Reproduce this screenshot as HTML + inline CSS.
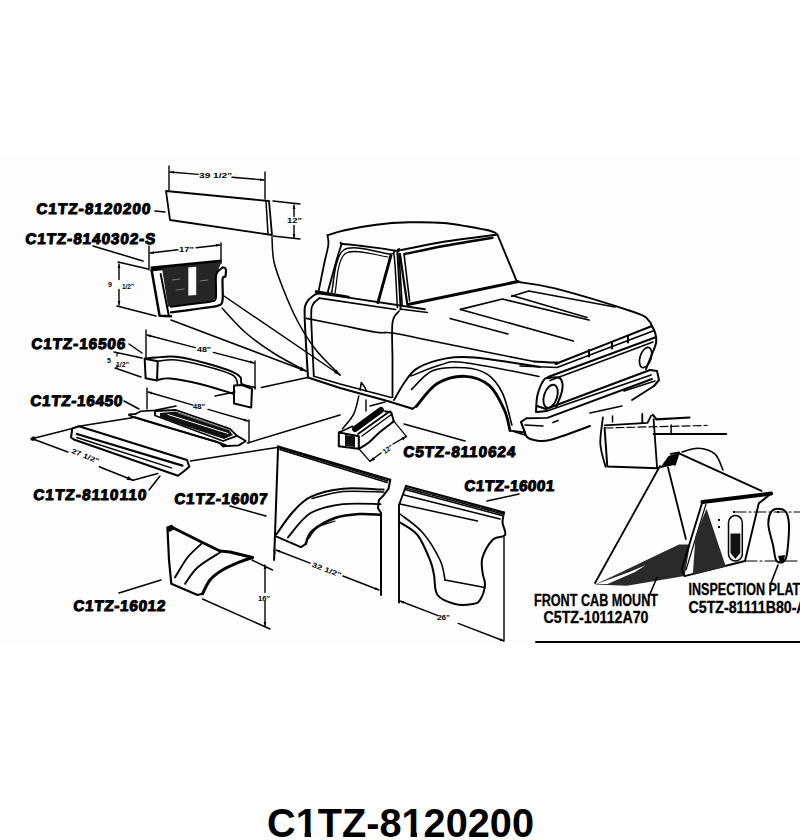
<!DOCTYPE html>
<html><head><meta charset="utf-8">
<style>
html,body{margin:0;padding:0;background:#fff;width:800px;height:840px;overflow:hidden}
svg{display:block}
.g path{fill:none;stroke:#000;stroke-linecap:round;stroke-linejoin:round}

.lab{font-family:"Liberation Sans",sans-serif;font-weight:bold;font-size:15.2px;fill:#000;stroke:#000;stroke-width:1.1;stroke-linejoin:round}
.dim{font-family:"Liberation Sans",sans-serif;font-weight:bold;font-size:7px;fill:#000}
.cap{font-family:"Liberation Sans",sans-serif;font-weight:bold;font-size:16px;fill:#000;stroke:#000;stroke-width:0.3}
.title{font-family:"Liberation Sans",sans-serif;font-weight:bold;font-size:41.5px;fill:#000}
</style></head><body>
<svg width="800" height="840" viewBox="0 0 800 840">
<rect x="0" y="155" width="800" height="490" style="fill:#fdfdfd"/>
<g class="g">
<g class="lab">
<text class="lab" transform="translate(36 214) skewX(-5)" x="0" y="0" textLength="114" lengthAdjust="spacing">C1TZ-8120200</text>
<text class="lab" transform="translate(25 244) skewX(-5)" x="0" y="0" textLength="130" lengthAdjust="spacing">C1TZ-8140302-S</text>
<text class="lab" transform="translate(31 349) skewX(-5)" x="0" y="0" textLength="94" lengthAdjust="spacing">C1TZ-16506</text>
<text class="lab" transform="translate(30 406) skewX(-5)" x="0" y="0" textLength="92" lengthAdjust="spacing">C1TZ-16450</text>
<text class="lab" transform="translate(33 500) skewX(-5)" x="0" y="0" textLength="113" lengthAdjust="spacing">C1TZ-8110110</text>
<text class="lab" transform="translate(174 504) skewX(-5)" x="0" y="0" textLength="93" lengthAdjust="spacing">C1TZ-16007</text>
<text class="lab" transform="translate(73 611) skewX(-5)" x="0" y="0" textLength="92" lengthAdjust="spacing">C1TZ-16012</text>
<text class="lab" transform="translate(403 457) skewX(-5)" x="0" y="0" textLength="112" lengthAdjust="spacing">C5TZ-8110624</text>
<text class="lab" transform="translate(464 491) skewX(-5)" x="0" y="0" textLength="90" lengthAdjust="spacing">C1TZ-16001</text>
</g>
<text class="cap" x="534" y="606.3" textLength="124" lengthAdjust="spacingAndGlyphs">FRONT CAB MOUNT</text>
<text class="cap" x="543.5" y="623.2" textLength="105" lengthAdjust="spacingAndGlyphs">C5TZ-10112A70</text>
<text class="cap" x="688.6" y="595.2" textLength="120" lengthAdjust="spacingAndGlyphs">INSPECTION PLATE</text>
<text class="cap" x="688.6" y="613" textLength="118" lengthAdjust="spacingAndGlyphs">C5TZ-81111B80-A</text>
<text class="title" x="267" y="837" textLength="267" lengthAdjust="spacingAndGlyphs">C1TZ-8120200</text>
<path d="M297 831.6 L304.6 831.6 L304.6 838 L297 838 Z" style="fill:#fff;stroke:none"/>
<path d="M311 831.6 L317 831.6 L317 838 L311 838 Z" style="fill:#fff;stroke:none"/>
<path d="M403 831.6 L410.6 831.6 L410.6 838 L403 838 Z" style="fill:#fff;stroke:none"/>
<path d="M417 831.6 L423.5 831.6 L423.5 838 L417 838 Z" style="fill:#fff;stroke:none"/>
<path d="M536 642 L800 642" stroke-width="2"/>
<path d="M155 211 L165 212" stroke-width="1.6"/>
<path d="M93 246 L143 261" stroke-width="1.5"/>
<path d="M129 344 L142 353" stroke-width="1.5"/>
<path d="M124 401 L139 409" stroke-width="1.5"/>
<path d="M149 490 L160 476" stroke-width="1.5"/>
<path d="M230 506 L266 516" stroke-width="1.5"/>
<path d="M119 593 L161 580" stroke-width="1.5"/>
<path d="M404 424 L465 441" stroke-width="1.5"/>
<path d="M487 501 L519 494" stroke-width="1.5"/>
<path d="M166 191 L269 201 L272 235 L170 220 Z" stroke-width="1.8"/>
<path d="M266 201 L268 234" stroke-width="1.5"/>
<path d="M169 166 L169 190" stroke-width="1.4"/>
<path d="M265 172 L265 199" stroke-width="1.4"/>
<path d="M170 172 L198.2 174.4" stroke-width="1.4"/>
<path d="M232 177.3 L264 180" stroke-width="1.4"/>
<path d="M170 172 L174.1 170.9 L173.9 173.7 Z" style="fill:#000;stroke:none"/>
<path d="M264 180 L259.9 181.1 L260.1 178.3 Z" style="fill:#000;stroke:none"/>
<text class="dim" x="199" y="178" textLength="33" lengthAdjust="spacingAndGlyphs">39 1/2"</text>
<path d="M273 201 L300 204" stroke-width="1.4"/>
<path d="M273 236 L300 239" stroke-width="1.4"/>
<path d="M294 205 L294 216.6" stroke-width="1.4"/>
<path d="M294 225.5 L294 238" stroke-width="1.4"/>
<path d="M294 205 L295.4 209 L292.6 209 Z" style="fill:#000;stroke:none"/>
<path d="M294 238 L292.6 234 L295.4 234 Z" style="fill:#000;stroke:none"/>
<text class="dim" x="287" y="223" textLength="15" lengthAdjust="spacingAndGlyphs">12"</text>
<path d="M149 246 L149 270" stroke-width="1.4"/>
<path d="M221 243 L221 262" stroke-width="1.4"/>
<path d="M150 253 L178 249.8" stroke-width="1.4"/>
<path d="M196.2 247.7 L220 245" stroke-width="1.4"/>
<path d="M150 253 L153.8 251.2 L154.1 253.9 Z" style="fill:#000;stroke:none"/>
<path d="M220 245 L216.2 246.8 L215.9 244.1 Z" style="fill:#000;stroke:none"/>
<text class="dim" x="179" y="252" textLength="15" lengthAdjust="spacingAndGlyphs">17"</text>
<path d="M118 262 L148 269" stroke-width="1.4"/>
<path d="M117 306 L156 316" stroke-width="1.4"/>
<path d="M119 264 L119 279.6" stroke-width="1.4"/>
<path d="M119 289.4 L119 305" stroke-width="1.4"/>
<path d="M119 264 L120.4 268 L117.6 268 Z" style="fill:#000;stroke:none"/>
<path d="M119 305 L117.6 301 L120.4 301 Z" style="fill:#000;stroke:none"/>
<text class="dim" x="108" y="287" >9</text>
<text class="dim" x="122" y="289" textLength="12" lengthAdjust="spacingAndGlyphs">1/2"</text>
<path d="M150.6 266.5 L221.5 259.5 L221.5 264 L150.6 271.5 Z" style="fill:#000;stroke:none"/>
<path d="M162 268 L221.5 262 L219 268 L217 273 L215.9 277.5 L215.9 297.7 L212.5 301.1 L168 306.7 Z" style="fill:#262626;stroke:none"/>
<path d="M188.3 267.4 L196.2 266.8 L196.2 295 L188.3 295.5 Z" style="fill:#fff;stroke:none"/>
<path d="M172 280 L180 279 M200 281 L208 280 M176 290 L184 289" style="fill:none;stroke:#777;stroke-width:1"/>
<path d="M151.7 270.7 L159.6 315.7 L170.9 316.3" stroke-width="2.5"/>
<path d="M160.7 274.1 L168.6 314.6" stroke-width="2"/>
<path d="M226 270 C225.9 271.1 226 274.9 225.4 276.4 C224.8 277.9 223.1 275.1 222.6 279 C222.1 282.9 223.3 295.6 222.6 300 C221.8 304.4 221.9 304.2 218.1 305.6 C214.3 307 207.9 307.4 200 308.5 C192.1 309.6 175.8 311.8 170.9 312.4" stroke-width="2.2"/>
<path d="M222.6 267.5 C221.8 268.2 218.6 270.3 217.5 272 C216.4 273.7 216.2 273.2 215.9 277.5 C215.6 281.8 216.5 293.8 215.9 297.7 C215.3 301.6 215.2 300.2 212.5 301.1 C209.8 302 206.9 302.1 200 303 C193.1 303.9 175.8 306.1 170.9 306.7" stroke-width="2"/>
<path d="M222.6 267.5 C223 267.6 224.4 267.4 225 267.8 C225.6 268.2 225.8 269.6 226 270" stroke-width="2"/>
<path d="M224 296 L340 375" stroke-width="1.5"/>
<path d="M222 308 C226 312.2 237.2 325.3 246 333 C254.8 340.7 265 347.7 275 354 C285 360.3 300.8 368.2 306 371" stroke-width="1.5"/>
<path d="M171 320 L306 371" stroke-width="1.5"/>
<path d="M272 237 C272.3 241.2 272 253 274 262 C276 271 280 281 284 291 C288 301 292.7 312.2 298 322 C303.3 331.8 309 341.2 316 350 C323 358.8 336 370.8 340 375" stroke-width="1.5"/>
<path d="M340 375 L334 372.9 L336.6 369.6 Z" style="fill:#000;stroke:none"/>
<path d="M306 371 L299.6 370.7 L301.2 366.8 Z" style="fill:#000;stroke:none"/>
<path d="M146 330 L146 358" stroke-width="1.4"/>
<path d="M255 361 L255 389" stroke-width="1.4"/>
<path d="M147 335 L195.2 347.6" stroke-width="1.4"/>
<path d="M213.3 352.4 L254 363" stroke-width="1.4"/>
<path d="M147 335 L151.2 334.7 L150.5 337.4 Z" style="fill:#000;stroke:none"/>
<path d="M254 363 L249.8 363.3 L250.5 360.6 Z" style="fill:#000;stroke:none"/>
<text class="dim" x="197" y="352" textLength="14" lengthAdjust="spacingAndGlyphs">48"</text>
<path d="M114 352 L142 358" stroke-width="1.4"/>
<path d="M115 368 L141 377" stroke-width="1.4"/>
<path d="M117 353 L117 356" stroke-width="1.2"/>
<path d="M117 365 L117 368" stroke-width="1.2"/>
<text class="dim" x="107" y="363" >5</text>
<text class="dim" x="116" y="367" textLength="13" lengthAdjust="spacingAndGlyphs">1/2"</text>
<path d="M144.7 358.8 L145.6 378.3 L157 380.5 L157.7 361.2 Z" stroke-width="2"/>
<path d="M144.7 358.8 C146.6 358.6 150.8 357.8 156 357.5 C161.2 357.2 167.8 355.9 176 356.8 C184.2 357.7 195.6 360.5 205 363 C214.4 365.5 226.6 369.4 232.5 371.8 C238.4 374.2 239 375.5 240.6 377.5 C242.2 379.5 239.6 382.3 242 384 C244.4 385.7 252.8 386.9 255 387.5" stroke-width="1.9"/>
<path d="M157.7 361.2 C160.8 361 168.1 359.2 176 360 C183.9 360.8 195.8 363.6 205 366 C214.2 368.4 225.7 371.9 231 374.2 C236.3 376.5 235.5 378.1 236.6 380 C237.7 381.9 237.3 384.7 237.4 385.6" stroke-width="1.5"/>
<path d="M157.7 380 C159.8 379.8 162.9 377.8 170 378.5 C177.1 379.2 189.3 381.4 200 384 C210.7 386.6 228.3 392.3 234 394" stroke-width="1.9"/>
<path d="M234 385.6 L234 403.5 L251.2 407.6 L252 388.9 L242 385 L234 385.6" stroke-width="2"/>
<path d="M261.3 387.5 L307.5 377.5" stroke-width="1.5"/>
<path d="M215 396 L235 392" stroke-width="1.4"/>
<path d="M147 388 L147 409" stroke-width="1.4"/>
<path d="M249 420 L249 443" stroke-width="1.4"/>
<path d="M148 392 L193 405.1" stroke-width="1.4"/>
<path d="M208 409.4 L248 421" stroke-width="1.4"/>
<path d="M148 392 L152.2 391.8 L151.5 394.5 Z" style="fill:#000;stroke:none"/>
<path d="M248 421 L243.8 421.2 L244.5 418.5 Z" style="fill:#000;stroke:none"/>
<text class="dim" x="193" y="409" textLength="12" lengthAdjust="spacingAndGlyphs">48"</text>
<path d="M135.5 414 L140.8 411.3 L155 410.4 L176 406" stroke-width="1.6"/>
<path d="M135.5 414 C135.4 414.6 121 412.7 135 417.5 C149 422.3 204.8 438 219.5 442.8 C234.2 447.6 222.4 445.7 223 446.3" stroke-width="1.8"/>
<path d="M135.5 417.5 L219.5 442.8 L223 446.3 L238.8 445.4 L245.8 441 L237 435.8" stroke-width="1.9"/>
<path d="M155 411 L176 410 L230 428.8 L237 435.8 L223 441 L155 415.5 Z" stroke-width="1.8"/>
<path d="M160 413 L176 411.5 L229 430 L233 435 L224 439 L160 417.5 Z" style="fill:#111;stroke:none"/>
<path d="M168 414.5 L228 433.5" style="fill:none;stroke:#fff;stroke-width:1"/>
<path d="M178 413 L226 429" style="fill:none;stroke:#888;stroke-width:0.8"/>
<path d="M247.5 443 L340 415" stroke-width="1.5"/>
<path d="M30 438.6 L34 436 L36 440 L32 441 Z" style="fill:#000;stroke:none"/>
<path d="M33 438.6 L72.3 428.5" stroke-width="1.5"/>
<path d="M33 439 L67.8 452" stroke-width="1.5"/>
<path d="M99.3 466.8 L133 480.3" stroke-width="1.5"/>
<path d="M133 480.3 L126.7 480 L128.2 476.1 Z" style="fill:#000;stroke:none"/>
<text class="dim" x="70" y="458" textLength="29" lengthAdjust="spacingAndGlyphs" transform="rotate(22 84 458)">27 1/2"</text>
<path d="M133 480.3 L157.8 473.5" stroke-width="1.5"/>
<path d="M72.3 428.5 L79 426.3 L187 460 L189.3 466.8 L183 472 L178 475.8 L74.5 439.8 L71 437.5 L72.3 428.5" stroke-width="2"/>
<path d="M76.8 434 L182.5 465.6" stroke-width="2.2"/>
<path d="M76.8 437.5 L171.3 467.9" stroke-width="1.5"/>
<path d="M79 426.3 L135.3 417.3" stroke-width="1.5"/>
<path d="M190.4 461 L277 447.5" stroke-width="1.5"/>
<path d="M167.5 528.8 L169 560 L171.3 583.8 L197.5 595 L202.5 593.8" stroke-width="2.2"/>
<path d="M202.5 593.8 C203.8 591.5 206.7 584 210 580 C213.3 576 217.3 573.1 222.5 570 C227.7 566.9 236.3 563.4 241.3 561.3 C246.3 559.2 250.6 558.1 252.5 557.5" stroke-width="3"/>
<path d="M172.5 527.5 L202.5 542.5 L220 551 L230 552 L252.5 557.5" stroke-width="2.9"/>
<path d="M166 527 L172 524.5 L175 529 L169 532 Z" style="fill:#000;stroke:none"/>
<path d="M175 577.5 C177.1 574.2 183.1 563.1 187.5 557.5 C191.9 551.9 199 546.1 201.3 543.8" stroke-width="1.9"/>
<path d="M185 583.8 C187.1 581.1 191.7 572.7 197.5 567.5 C203.3 562.3 216.2 555 220 552.5" stroke-width="1.9"/>
<path d="M252 560 L272.5 570" stroke-width="1.4"/>
<path d="M202.5 599 L270 629" stroke-width="1.4"/>
<path d="M265 565 L265 592.5" stroke-width="1.4"/>
<path d="M265 601.6 L265 626" stroke-width="1.4"/>
<path d="M265 565 L266.4 569 L263.6 569 Z" style="fill:#000;stroke:none"/>
<path d="M265 626 L263.6 622 L266.4 622 Z" style="fill:#000;stroke:none"/>
<text class="dim" x="258" y="601" textLength="12" lengthAdjust="spacingAndGlyphs">16"</text>
<path d="M278.1 446.5 L390.2 479.8" stroke-width="2.2"/>
<path d="M279.8 449.5 L387 482.5" stroke-width="1.6"/>
<path d="M280 448 L388 481" style="fill:none;stroke:#000;stroke-width:1.6;stroke-dasharray:1.5 1.5"/>
<path d="M278.1 446.5 L274.1 560" stroke-width="2"/>
<path d="M390.2 479.8 L388.6 488.7 L383.7 495.2 L378.9 500.1 L378 508.2 L381 513 L381 595" stroke-width="2"/>
<path d="M276.5 534.2 C279.1 530.7 286.3 519.2 292 513 C297.7 506.8 302.1 500.9 310.6 496.9 C319.1 492.8 330.8 489.9 343 488.7 C355.2 487.5 376.9 489.5 383.7 489.6" stroke-width="2"/>
<path d="M312 498.5 C317.2 497.3 331.1 492.6 343 491.5 C354.9 490.4 376.9 491.9 383.7 492" stroke-width="1.5"/>
<path d="M287.9 537.5 C291.7 533.4 301.4 518.6 310.6 513.1 C319.8 507.6 331.4 505.7 343 504.2 C354.6 502.7 374.2 504.2 380.5 504.2" stroke-width="1.8"/>
<path d="M305.7 544 C306.8 541.8 307.3 535.3 312.2 531 C317.1 526.7 327.1 520.8 335 518 C342.9 515.2 351.8 514.5 359.4 514 C367 513.5 377 514.6 380.5 514.7" stroke-width="2.5"/>
<path d="M309 538 C310.5 536.2 313.7 529.8 318 527 C322.3 524.2 332.2 522 335 521" stroke-width="1.2"/>
<path d="M274.9 535.9 L300.9 547.2 L305.7 544" stroke-width="2"/>
<path d="M274 550 L275 553" stroke-width="1.4"/>
<path d="M276 550 L310 563.2" stroke-width="1.4"/>
<path d="M342.9 576 L379 590" stroke-width="1.4"/>
<path d="M276 550 L280.2 550.1 L279.2 552.8 Z" style="fill:#000;stroke:none"/>
<path d="M379 590 L374.8 589.9 L375.8 587.2 Z" style="fill:#000;stroke:none"/>
<text class="dim" x="311" y="572" textLength="31" lengthAdjust="spacingAndGlyphs" transform="rotate(21 326 570)">32 1/2"</text>
<path d="M406 486 L504 512.5" stroke-width="2.2"/>
<path d="M405 489.5 L502 515.5" stroke-width="1.5"/>
<path d="M406 488 L503 514" style="fill:none;stroke:#000;stroke-width:1.6;stroke-dasharray:1.5 1.5"/>
<path d="M404 495 L500 519" stroke-width="1.5"/>
<path d="M400 504 L477.5 521" stroke-width="1.5"/>
<path d="M406 486 L399 505 L399 602.5" stroke-width="1.9"/>
<path d="M504 512.5 C503.8 514.2 502.3 518.8 502.5 522.5 C502.7 526.2 506.7 532.1 505 535 C503.3 537.9 496.2 536.2 492.5 540 C488.8 543.8 484.2 552.1 482.5 557.5 C480.8 562.9 482.1 567.9 482.5 572.5 C482.9 577.1 485.4 580.4 485 585 C484.6 589.6 482.1 596.8 480 600 C477.9 603.2 476.7 603.3 472.5 604 C468.3 604.7 460.8 605.5 455 604 C449.2 602.5 441 599.8 437.5 595 C434 590.2 435.2 580.8 434 575 C432.8 569.2 432.8 566.7 430 560 C427.2 553.3 422.5 541.2 417.5 535 C412.5 528.8 402.9 524.6 400 522.5" stroke-width="2"/>
<path d="M400 514 C403.8 517.1 415.8 524.8 422.5 532.5 C429.2 540.2 436.2 552.1 440 560 C443.8 567.9 444.2 576.7 445 580" stroke-width="1.6"/>
<path d="M445 580 L485 587.5" stroke-width="1.6"/>
<path d="M504 537.5 L504 640" stroke-width="1.4"/>
<path d="M400 601 L437.4 615.4" stroke-width="1.4"/>
<path d="M458.2 623.4 L504 641" stroke-width="1.4"/>
<path d="M400 601 L404.2 601.1 L403.2 603.7 Z" style="fill:#000;stroke:none"/>
<path d="M504 641 L499.8 640.9 L500.8 638.3 Z" style="fill:#000;stroke:none"/>
<text class="dim" x="437" y="620" textLength="13" lengthAdjust="spacingAndGlyphs">26"</text>
<path d="M338.8 432.5 L338.8 446.3 L358.8 448.8 L358.8 436.3 L338.8 432.5" stroke-width="2"/>
<path d="M345 435 L355 436.5 L355 447 L345 446 Z" style="fill:#111;stroke:none"/>
<path d="M341 434 L344 434.5 L344 445 L341 445 Z" style="fill:#fff;stroke:none"/>
<path d="M355 429 L381 410" style="stroke:#000;stroke-width:6;stroke-linecap:round;fill:none"/>
<path d="M358 434 L386 414 L390 411.3" stroke-width="1.8"/>
<path d="M362 436 L392 414" stroke-width="1.5"/>
<path d="M385 411.3 L391.3 412.5 L393.8 421.3" stroke-width="1.9"/>
<path d="M358.8 448.8 C360.5 447.8 365.3 445.3 368.8 442.5 C372.3 439.7 375.8 435.5 380 432 C384.2 428.5 391.5 423.1 393.8 421.3" stroke-width="2"/>
<path d="M338.8 432.5 L352.5 426.3" stroke-width="1.6"/>
<path d="M366 400 L366 411" stroke-width="1.4"/>
<path d="M358.8 396 C358 399 356.5 408.3 353.8 413.8 C351.1 419.3 344.4 426.3 342.5 428.8" stroke-width="1.5"/>
<path d="M360 390 L361.3 382.5 L365 387.5 L366.3 391.3" stroke-width="1.5"/>
<path d="M359 449 L370 461.3" stroke-width="1.2"/>
<path d="M394 421.3 L406.3 436.3" stroke-width="1.2"/>
<path d="M370 461.3 L381 453" stroke-width="1.4"/>
<path d="M393 444 L406.3 436.3" stroke-width="1.4"/>
<path d="M370 461.3 L373.1 457 L375.1 459.9 Z" style="fill:#000;stroke:none"/>
<path d="M406.3 436.3 L403.2 440.6 L401.2 437.7 Z" style="fill:#000;stroke:none"/>
<text class="dim" x="382" y="452" textLength="11" lengthAdjust="spacingAndGlyphs" transform="rotate(-35 387 449)">12"</text>
<path d="M308 377.5 L340 388 L387.5 401 L412.5 408.8" stroke-width="2"/>
<path d="M313.8 376.3 L340 384 L391.3 397.5" stroke-width="1.6"/>
<path d="M370 406 L385 402" stroke-width="1.4"/>
<path d="M327.5 235.3 C330.2 234.5 335.6 232.2 343.7 230.4 C351.8 228.6 365.4 226 376.2 224.7 C387 223.3 397.4 222.6 408.7 222.3 C419.9 222 431.1 221.9 443.7 223.1 C456.3 224.3 475.7 228 484.4 229.6 C493.1 231.2 493.8 232.3 495.7 232.9" stroke-width="2"/>
<path d="M327.5 235.3 C327.6 236.9 328.9 240.3 328.3 245 C327.8 249.7 325.8 256 324.2 263.7 C322.6 271.4 319.5 286.8 318.6 291.4" stroke-width="1.8"/>
<path d="M327.5 293 C329.7 285.4 337.5 255.6 340.5 247.5 C343.5 239.4 336.2 243.8 345.4 244.3 C354.6 244.8 387 249.1 395.7 250.7 C404.4 252.3 396.6 244.2 397.4 254 C398.2 263.8 400.1 300 400.6 309.2" stroke-width="1.9"/>
<path d="M331.6 293 C333.6 285.8 334.1 256.5 343.7 250 C353.3 243.5 380.8 253.1 389.2 254 C397.6 254.9 392.7 246.7 394.1 255.6 C395.5 264.5 396.8 298.9 397.4 307.6" stroke-width="1.5"/>
<path d="M335 293 C336.8 286.4 336.7 259.5 345.5 253.5 C354.3 247.5 380.9 256.4 388 257" stroke-width="1.2"/>
<path d="M390.9 255.6 L377.9 302.7" stroke-width="2.9"/>
<path d="M399 253.2 L402.2 306" stroke-width="1.6"/>
<path d="M401.5 250 C408.5 248.6 427.7 244.4 443.7 241.8 C459.7 239.2 488.4 235.7 497.4 234.5" stroke-width="2"/>
<path d="M404.7 254 C411.2 252.7 429.1 248.7 443.7 246 C458.3 243.3 484.4 239.1 492.5 237.7" stroke-width="2.5"/>
<path d="M399.9 254 L407.2 303.6" stroke-width="2.2"/>
<path d="M404 254 L409.6 301" stroke-width="1.6"/>
<path d="M497.4 234.5 L516.9 281.6" stroke-width="1.9"/>
<path d="M408 304.4 L518 281.6" stroke-width="3.1"/>
<path d="M316.1 293 L350.2 297.9 L425 309.2" stroke-width="1.9"/>
<path d="M316 291.4 L348.6 297" stroke-width="2.5"/>
<path d="M400 309 L427.5 312.5" stroke-width="1.5"/>
<path d="M308 377.5 C307.4 367.5 305 330 304.7 317.6 C304.4 305.2 304.8 306.8 306.4 303 C308 299.2 312.1 296.5 314.5 294.9 C316.9 293.3 319.9 293.5 321 293.2" stroke-width="2"/>
<path d="M313.8 376.3 C313.4 366.5 311.4 329.6 311.2 317.6 C311 305.7 311.5 307.9 312.9 304.6 C314.3 301.4 318.3 299.2 319.4 298.1" stroke-width="1.8"/>
<path d="M319.4 298.1 L395.7 309.5" stroke-width="1.6"/>
<path d="M306.4 318.4 C312 319.5 328.4 322.7 340 325 C351.6 327.3 367.4 330.9 376.2 332.2 C384.9 333.5 384.4 331.8 392.5 333 C400.6 334.2 408.8 336.2 425 339.5 C441.2 342.8 471.8 349.1 490 352.8 C508.2 356.5 526.7 360.1 534 361.5" stroke-width="1.6"/>
<path d="M399 311.1 C397.9 313 393.6 314.4 392.5 322.5 C391.4 330.6 392.5 347.6 392.5 360 C392.5 372.4 392.5 391 392.5 397.2" stroke-width="1.8"/>
<path d="M394 400 C395.9 396.8 401.5 386.4 405.5 381 C409.5 375.6 411.2 371.6 418 367.8 C424.8 364 436.9 360.1 446.3 358.4 C455.7 356.7 461.9 356.6 474.4 357.5 C486.9 358.4 510.4 362.4 521.3 364 C532.2 365.6 536.9 366.5 540 367" stroke-width="1.9"/>
<path d="M411.6 389.4 C415.2 386.3 424.1 374.2 433 370.6 C441.9 367 455.9 367.2 465 367.8 C474.1 368.4 481.2 370.2 487.5 374.4 C493.8 378.6 498.4 384.7 502.5 393.1 C506.6 401.5 510.3 419.7 511.9 425" stroke-width="1.6"/>
<path d="M416.3 406.3 C419.7 402.6 428.8 388.8 436.9 383.8 C445 378.8 456.2 376 465 376.3 C473.8 376.6 482.8 380 489.4 385.6 C496 391.2 501 402.5 504.4 410 C507.8 417.5 509.1 427.2 510 430.6" stroke-width="2.8"/>
<path d="M510 430.6 L525 432.5" stroke-width="1.9"/>
<path d="M412.5 408.8 L416.3 406.3" stroke-width="1.9"/>
<path d="M411 376 C415.8 374.2 431.2 367.3 440 365 C448.8 362.7 447.5 360.5 464 362.4 C480.5 364.3 526.5 374.1 539 376.4" stroke-width="1.5"/>
<path d="M518 282 C524.2 283.1 535.7 283.4 555 288.4 C574.3 293.4 618.2 306.8 633.7 312 C649.2 317.2 645.2 317.5 648.2 319.9 C651.2 322.3 651.4 325.3 652 326.4" stroke-width="1.9"/>
<path d="M460.5 309.4 L502.5 299 L589 320" stroke-width="1.8"/>
<path d="M460.5 309.4 L573.4 341" stroke-width="1.6"/>
<path d="M450 318.5 L508 334" stroke-width="1.5"/>
<path d="M511.7 296.2 L528.7 291 L615 307" stroke-width="1.6"/>
<path d="M512 295.5 L587 317.5" stroke-width="1.5"/>
<path d="M534 361.5 C537.9 361.7 552.7 362.6 557.5 362.5 C562.3 362.4 547.2 367.1 563 361 C578.8 354.9 637.2 331.8 652 326" stroke-width="2"/>
<path d="M520 366 L557 367.5 L653 331" stroke-width="1.6"/>
<path d="M548 377 L655 337.5" stroke-width="1.9"/>
<path d="M550 380.5 L653 342" stroke-width="1.5"/>
<path d="M652 326 C652.6 327.3 654.8 331.2 655.5 334 C656.2 336.8 656.6 339.7 656 343 C655.4 346.3 653.7 349.7 652 354 C650.3 358.3 647 366.5 646 369" stroke-width="2"/>
<path d="M589 350 L589 356.5" stroke-width="2"/>
<path d="M612 342 L612 348.5" stroke-width="2"/>
<path d="M628 336 L628 342.5" stroke-width="2"/>
<ellipse cx="645.6" cy="357.5" rx="5.5" ry="10.5" transform="rotate(18 645.6 357.5)" style="fill:none;stroke:#000;stroke-width:1.7"/>
<ellipse cx="550.6" cy="396.3" rx="6.5" ry="12" transform="rotate(18 550.6 396.3)" style="fill:none;stroke:#000;stroke-width:1.9"/>
<path d="M536 412 C536.2 409.2 536.2 400.3 537.5 395 C538.8 389.7 541.9 382.8 543.8 380 C545.7 377.2 546.5 378.4 549 378 C551.5 377.6 556.5 376.5 558.8 377.5 C561 378.5 562.1 381.1 562.5 383.8 C562.9 386.5 562.3 390.1 561.3 393.8 C560.3 397.6 557.1 404.2 556.3 406.3" stroke-width="2"/>
<path d="M537 406 L546 409 L650 370" stroke-width="2"/>
<path d="M537 412 L547 411 L651 375" stroke-width="1.8"/>
<path d="M521 422 L526.3 418.3 L547.3 417.9 L652 379" stroke-width="1.9"/>
<path d="M650 370 L657 371 L659 380 L654 386" stroke-width="2"/>
<path d="M521 422 C521.5 423.3 523 427.5 524 430 C525 432.5 525.3 435.3 527 437 C528.7 438.7 530.2 439.5 534 440 C537.8 440.5 540.7 442.3 550 440 C559.3 437.7 583.3 428.3 590 426" stroke-width="2.1"/>
<path d="M515 432 L525 435" stroke-width="1.6"/>
<path d="M525 425 L543 426" stroke-width="1.5"/>
<path d="M553 422.5 L558 420.5" stroke-width="1.8"/>
<path d="M590 413 L622 406" stroke-width="1.5"/>
<path d="M632 400 L654 386" stroke-width="1.8"/>
<path d="M624 391 L655 381" stroke-width="1.5"/>
<path d="M602.9 417.5 C602.5 421.9 599.9 435.6 600.3 443.8 C600.7 452 604.6 462.7 605.5 466.5" stroke-width="1.8"/>
<path d="M604.6 428 L607.3 466.5 L658 468.3" stroke-width="2"/>
<path d="M604.6 425.4 L647.5 422.8 L651 415.8" stroke-width="1.8"/>
<path d="M605 428 L707 425.4" stroke="#000" stroke-width="1.2" stroke-dasharray="8 3"/>
<path d="M653.6 419.3 L657.1 468.3" stroke-width="1.8"/>
<path d="M653.6 434 L726.3 434" stroke-width="1.8"/>
<path d="M652.8 414.9 L656.3 419.3 L689.5 417.5" stroke-width="2.2"/>
<path d="M612.5 416 L612.5 422" stroke-width="1.5"/>
<path d="M642.3 414 L642.3 423" stroke-width="1.8"/>
<path d="M671.1 425 L671.1 433" stroke-width="1.5"/>
<path d="M668.5 456 L679 452.4 L674.9 464.8 L659.8 468.3 Z" style="fill:#000;stroke:none"/>
<path d="M670.8 453.8 L679 452.4 L674.9 464.8" stroke-width="1.8"/>
<path d="M682 452 C684.7 451.4 692.5 447.9 698 448.2 C703.5 448.5 710.6 450.2 714.8 453.8 C719 457.4 721.6 467.3 723 470" stroke-width="1.6"/>
<path d="M679 453.4 L761.5 490.9" stroke-width="1.8"/>
<path d="M660 466 L595 583" stroke-width="1.8"/>
<path d="M668 467.5 L685.9 539" stroke-width="1.8"/>
<path d="M595 584.4 L615.8 574.8 L679 544.5 L690 544.5 L684.5 576 L626.8 585.8 Z" style="fill:#2a2a2a;stroke:none"/>
<path d="M596.5 584 L629.5 572 L646 565 L635 572 L607.5 584 Z" style="fill:#fff;stroke:none"/>
<path d="M702.4 501.9 L771.1 493.6" stroke-width="4"/>
<path d="M771.1 493.6 L758.8 503.3 L745 561 L684.5 576.1 L681.8 569 L702.4 501.9" stroke-width="1.9"/>
<path d="M706 504 L686 570" stroke-width="1.2"/>
<path d="M706.5 508.8 L725.8 566.5 L692.8 574.8 L695.5 536.3 Z" style="fill:#2a2a2a;stroke:none"/>
<rect x="728.5" y="515.6" width="13.8" height="45.4" rx="6.9" style="fill:none;stroke:#000;stroke-width:1.5"/>
<path d="M730.5 533.5 L740.3 533.5 L740.3 553 L735.4 559 L730.5 553 Z" style="fill:#111;stroke:none"/>
<path d="M718 519 L720 519 L720 521 L718 521 Z" style="fill:#000;stroke:none"/>
<path d="M718 526 L720 526 L720 528 L718 528 Z" style="fill:#000;stroke:none"/>
<path d="M733 511 L735 511 L735 513 L733 513 Z" style="fill:#000;stroke:none"/>
<path d="M778 508.8 C780.5 508.8 784.2 509.3 786 512 C787.8 514.7 788.7 519.5 789 525 C789.3 530.5 788.5 539.5 788 545 C787.5 550.5 787 555.1 786 558 C785 560.9 783.7 562.1 782 562.4 C780.3 562.7 777.5 562.9 776 560 C774.5 557.1 774.3 550.8 773 545 C771.7 539.2 768.7 530.5 768.4 525 C768.1 519.5 769.4 514.7 771 512 C772.6 509.3 775.5 508.8 778 508.8 Z" stroke-width="2"/>
<path d="M778 556 L785 555 L784 561 L780 562 Z" style="fill:#000;stroke:none"/>
<path d="M777 511 L779 511 L779 513 L777 513 Z" style="fill:#000;stroke:none"/>
<path d="M734 512 L800 512 M745 561 L800 561" style="fill:none;stroke:#000;stroke-width:1.1;stroke-dasharray:12 3 2 3"/>
<path d="M657 577.5 L648.8 596.8" stroke-width="1.6"/>
<path d="M778 565 L771 583" stroke-width="1.6"/>
</g>
</svg>
</body></html>
